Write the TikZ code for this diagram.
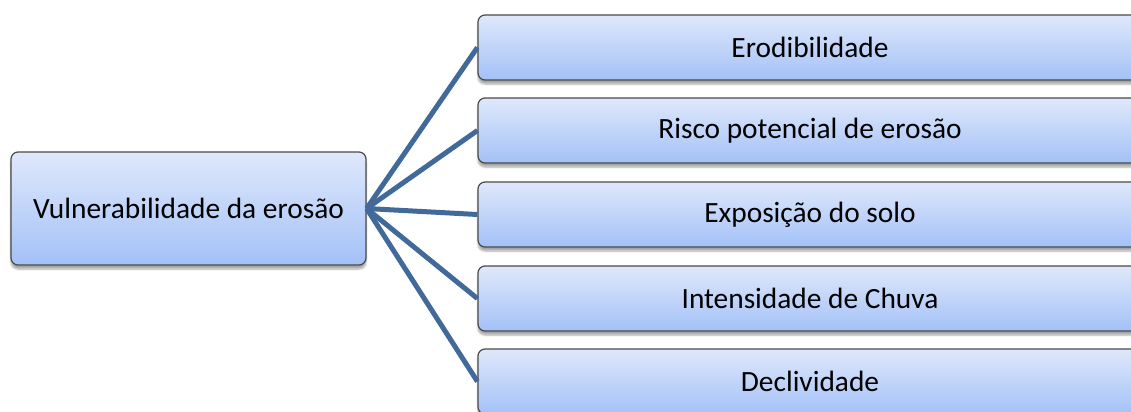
\documentclass[tikz,border=0pt]{standalone}
\usepackage{fontspec}
\setmainfont{Carlito}
\usetikzlibrary{shadows.blur}
\definecolor{boxtop}{HTML}{DFE8FB}
\definecolor{boxbot}{HTML}{A3C1F7}
\definecolor{boxline}{HTML}{4A4A4A}
\definecolor{link}{HTML}{41699A}
\tikzset{
  topic/.style={draw=boxline, line width=1.2bp, rounded corners=7bp,
    top color=boxtop, bottom color=boxbot, inner sep=0pt,
    blur shadow={shadow xshift=0bp, shadow yshift=-4bp, shadow blur steps=6, shadow opacity=35},
    font=\fontsize{29.5}{34}\selectfont},
  link/.style={draw=link, line width=5bp}
}
\begin{document}
\begin{tikzpicture}[x=1bp,y=-1bp]
  \useasboundingbox (0,0) rectangle (1131,411);
  \clip (0,0) rectangle (1131,411);
  \node[topic, minimum width=355bp, minimum height=113bp] (root) at (188.5,208.5) {Vulnerabilidade da erosão};
  \node[topic, minimum width=664bp, minimum height=65bp] (f1) at (810,47.5) {Erodibilidade};
  \node[topic, minimum width=664bp, minimum height=65bp] (f2) at (810,130.5) {Risco potencial de erosão};
  \node[topic, minimum width=664bp, minimum height=65bp] (f3) at (810,214.5) {Exposição do solo};
  \node[topic, minimum width=664bp, minimum height=65bp] (f4) at (810,298.5) {Intensidade de Chuva};
  \node[topic, minimum width=664bp, minimum height=65bp] (f5) at (810,381.5) {Declividade};
  \foreach \f in {f1,f2,f3,f4,f5}
    \draw[link] (root.east) -- (\f.west);
\end{tikzpicture}
\end{document}
